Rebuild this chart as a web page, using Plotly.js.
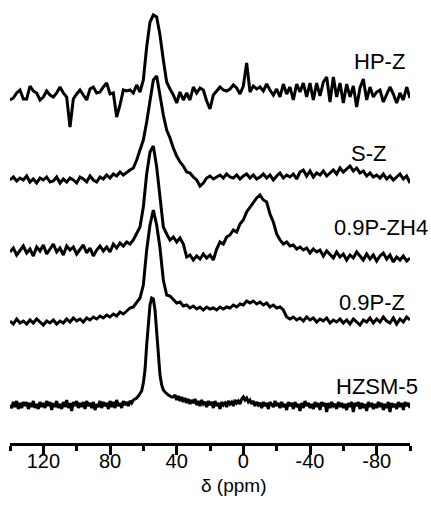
<!DOCTYPE html>
<html>
<head>
<meta charset="utf-8">
<script src="https://cdn.plot.ly/plotly-3.0.1.min.js"></script>
<style>html,body{margin:0;padding:0;background:#fff;}#chart{width:431px;height:505px;}</style>
</head>
<body>
<div id="chart"></div>
<script>
// chemical shift grid (ppm), 2 ppm step
const ppm = [
140,138,136,134,132, 130,128,126,124,122, 120,118,116,114,112, 110,108,106,104,102,
100,98,96,94,92, 90,88,86,84,82, 80,78,76,74,72, 70,68,66,64,62,
60,58,56,54,52, 50,48,46,44,42, 40,38,36,34,32, 30,28,26,24,22,
20,18,16,14,12, 10,8,6,4,2, 0,-2,-4,-6,-8, -10,-12,-14,-16,-18,
-20,-22,-24,-26,-28, -30,-32,-34,-36,-38, -40,-42,-44,-46,-48, -50,-52,-54,-56,-58,
-60,-62,-64,-66,-68, -70,-72,-74,-76,-78, -80,-82,-84,-86,-88, -90,-92,-94,-96,-98,
-100];

// chemical shift grid (ppm), 1 ppm step (HZSM-5)
const ppmFine = [
140,139,138,137,136,135,134,133,132,131, 130,129,128,127,126,125,124,123,122,121,
120,119,118,117,116,115,114,113,112,111, 110,109,108,107,106,105,104,103,102,101,
100,99,98,97,96,95,94,93,92,91, 90,89,88,87,86,85,84,83,82,81,
80,79,78,77,76,75,74,73,72,71, 70,69,68,67,66,65,64,63,62,61,
60,59,58,57,56,55,54,53,52,51, 50,49,48,47,46,45,44,43,42,41,
40,39,38,37,36,35,34,33,32,31, 30,29,28,27,26,25,24,23,22,21,
20,19,18,17,16,15,14,13,12,11, 10,9,8,7,6,5,4,3,2,1,
0,-1,-2,-3,-4,-5,-6,-7,-8,-9, -10,-11,-12,-13,-14,-15,-16,-17,-18,-19,
-20,-21,-22,-23,-24,-25,-26,-27,-28,-29, -30,-31,-32,-33,-34,-35,-36,-37,-38,-39,
-40,-41,-42,-43,-44,-45,-46,-47,-48,-49, -50,-51,-52,-53,-54,-55,-56,-57,-58,-59,
-60,-61,-62,-63,-64,-65,-66,-67,-68,-69, -70,-71,-72,-73,-74,-75,-76,-77,-78,-79,
-80,-81,-82,-83,-84,-85,-86,-87,-88,-89, -90,-91,-92,-93,-94,-95,-96,-97,-98,-99,
-100];

const tickValues = [120, 80, 40, 0, -40, -80];
const tickLabels = ["120", "80", "40", "0", "-40", "-80"];
const axisTitle = "δ (ppm)";

const sampleNames = ["HP-Z", "S-Z", "0.9P-ZH4", "0.9P-Z", "HZSM-5"];
const stackOffsets = [346, 263, 191, 123, 38];

const hpZ = [
-3,-1,4,7,-2, -2,11,6,4,-3, 0,6,2,0,4, 10,4,0,-30,-2,
3,7,2,-3,8, 10,4,5,10,14, 3,4,-20,-8,7, 6,7,4,12,5,
17,50,75,82,80, 62,37,15,8,2, -6,5,-3,4,-3, 10,4,9,7,-4,
-12,2,6,10,7, 6,8,12,9,3, 11,34,5,11,8, 10,6,13,7,2,
8,0,13,3,10, -3,13,5,14,0, 14,-3,14,1,15, 20,-5,20,0,14,
-6,13,0,11,-10, 9,18,-3,10,0, 5,7,-5,3,10, 3,-6,4,-3,10,
-1];

const sZ = [
0,3,-1,2,0, 4,-2,1,-3,2, 0,3,-2,-1,3, -3,1,-2,2,0,
-3,3,1,-2,4, 0,-2,3,1,5, 2,6,4,8,5, 8,10,12,20,30,
40,58,80,100,104, 82,65,50,42,32, 24,18,14,8,7, 3,0,-6,-3,2,
4,1,3,5,2, 6,3,2,5,1, 4,6,2,5,1, 3,6,2,5,0,
4,7,2,5,3, 6,1,8,10,4, 9,3,7,5,9, 4,7,10,6,12,
8,11,14,9,12, 7,9,4,7,3, 5,2,6,1,4, 0,3,6,1,4,
-3];

const p09ZH4 = [
0,4,-3,2,6, -1,3,-4,5,1, 7,-2,3,8,0, 4,-3,6,2,5,
-2,3,7,-1,4, -4,2,6,1,5, 0,8,4,9,6, 10,8,12,18,25,
45,78,100,106,85, 52,25,18,12,15, 10,14,8,-5,-3, -8,-4,-7,-2,-6,
-3,-8,3,10,8, 15,17,22,20,28, 32,40,45,50,54, 57,52,50,38,30,
18,12,8,10,6, 7,3,5,2,4, -1,3,0,2,-4, 1,-3,-6,0,-5,
-2,-8,-3,-6,0, -4,-8,-2,-7,-3, -9,-4,-1,-7,-3, -10,-5,-8,-4,-9,
-6];

const p09Z = [
-1,-4,1,-3,-1, -4,0,-3,1,-2, -5,-1,-3,0,-4, -1,-3,1,-2,2,
-1,1,-2,2,0, 3,1,4,2,5, 3,6,4,8,6, 9,12,13,17,22,
35,70,95,110,95, 72,40,25,24,20, 17,18,14,15,12, 14,11,13,10,13,
11,12,10,13,11, 13,12,15,13,16, 15,19,17,19,16, 18,15,17,13,15,
12,13,10,3,1, 3,0,2,-1,3, 0,2,-2,1,-1, 2,-3,0,-2,1,
-3,0,-4,1,-2, -5,0,-2,2,-3, 1,-2,3,-1,-3, 2,-4,1,-2,3,
0];

const hzsm5 = [
0,-3,3,-2,4,-4,2,-3,3,-1, 3,-4,2,-2,4,-3,1,-4,3,-2,
2,-3,4,-1,3,-5,2,-2,4,-3, 1,-4,3,-2,5,-3,2,-6,3,-1,
4,-3,2,-2,3,-4,4,-1,2,-3, 3,-5,1,-2,4,-3,3,-1,2,-4,
4,-2,3,-3,5,-1,2,-3,4,0, 3,-1,4,2,5,6,7,9,11,14,
22,35,60,85,100,107,106,95,75,50, 30,20,15,13,11,10,9,8,8,10,
5,9,4,8,3,7,2,6,1,5, 2,6,0,4,-1,5,1,3,-2,4,
0,3,-3,4,-1,2,-4,3,0,2, -2,4,1,3,-1,5,2,4,1,6,
8,5,7,3,5,1,4,-1,3,0, 2,-3,3,-1,2,-4,3,0,-2,4,
-1,2,-3,3,-2,1,-5,3,-1,2, -4,3,-2,1,-6,2,-3,4,-1,2,
-3,1,-4,3,-2,2,-5,3,-1,2, -7,2,-3,3,-1,1,-4,3,-2,2,
-3,1,-5,2,-2,3,-7,2,-1,3, -4,2,-3,1,-6,3,-2,2,-4,1,
-3,3,-2,2,-5,1,-3,3,-7,2, -2,1,-4,3,-2,2,-5,3,-1,2,
-3];

const series = [hpZ, sZ, p09ZH4, p09Z, hzsm5];
const xGrids = [ppm, ppm, ppm, ppm, ppmFine];

const FONT = "Arial, 'Liberation Sans', Helvetica, sans-serif";

const traces = series.map((s, i) => ({
  x: xGrids[i],
  y: s.map(v => v + stackOffsets[i]),
  type: 'scatter',
  mode: 'lines',
  name: sampleNames[i],
  line: {color: '#000', width: 3},
  hoverinfo: 'skip'
}));

const labelPos = [
  {x: 0.9925, y: 0.870},
  {x: 0.945, y: 0.660},
  {x: 1.05, y: 0.491},
  {x: 0.9925, y: 0.320},
  {x: 1.025, y: 0.128}
];

const annotations = sampleNames.map((n, i) => ({
  text: n, xref: 'paper', yref: 'paper',
  x: labelPos[i].x, y: labelPos[i].y,
  xanchor: 'right', yanchor: 'middle', showarrow: false,
  font: {family: FONT, size: 22, color: '#000'}
}));
annotations.push({
  text: axisTitle, xref: 'paper', yref: 'paper',
  x: 0.5575, y: -0.098, xanchor: 'center', yanchor: 'middle', showarrow: false,
  font: {family: FONT, size: 19, color: '#000'}
});

const layout = {
  width: 431, height: 505,
  margin: {l: 10, r: 21, t: 5, b: 62},
  paper_bgcolor: '#fff', plot_bgcolor: '#fff',
  showlegend: false,
  font: {family: FONT, color: '#000'},
  xaxis: {
    range: [140, -100], autorange: false,
    showline: true, linecolor: '#000', linewidth: 3,
    ticks: 'outside', ticklen: 9, tickwidth: 3, tickcolor: '#000',
    tickmode: 'array', tickvals: tickValues, ticktext: tickLabels,
    ticklabelstandoff: -11,
    minor: {ticks: 'outside', tick0: 0, dtick: 20, ticklen: 5, tickwidth: 3, tickcolor: '#000', showgrid: false},
    showgrid: false, zeroline: false,
    tickfont: {family: FONT, size: 20, color: '#000'}
  },
  yaxis: {visible: false, range: [0, 438], autorange: false, fixedrange: true, showgrid: false, zeroline: false},
  annotations: annotations
};

Plotly.newPlot('chart', traces, layout, {displayModeBar: false, staticPlot: true});
</script>
</body>
</html>
